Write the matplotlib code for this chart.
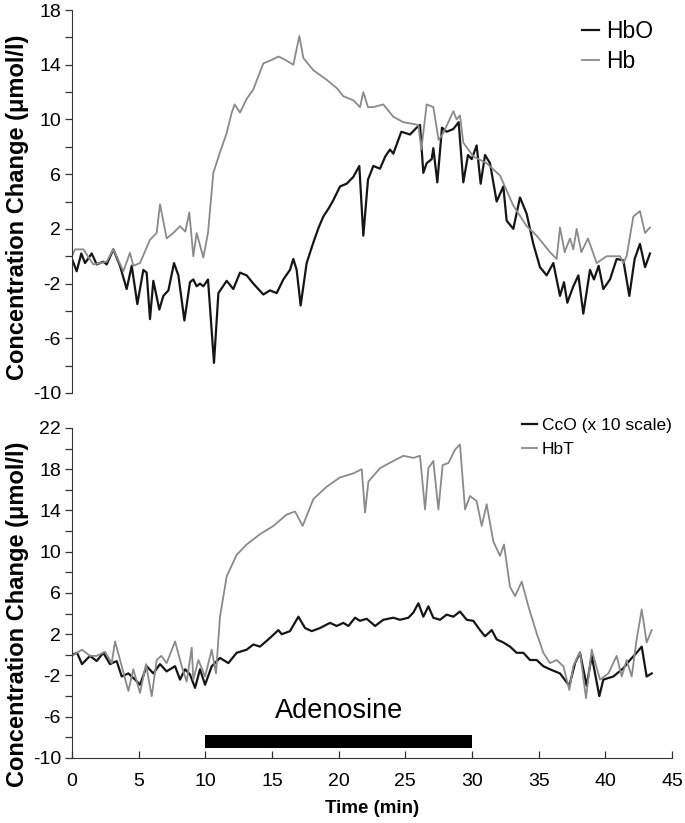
import matplotlib.pyplot as plt
import matplotlib.ticker as mticker

plt.rcParams['font.family'] = ['Liberation Sans', 'DejaVu Sans']
plt.rcParams['axes.unicode_minus'] = False

# top panel: HbO (black) and Hb (grey), time in minutes
hb_t = [0, 0.23, 0.85, 1.6, 2.6, 3.1, 3.85, 4.35, 4.6, 5.1, 5.85, 6.35, 6.6, 7.1, 7.6,
        8.1, 8.5, 8.8, 9.1, 9.35, 9.85, 10.2, 10.6, 11.1, 11.6, 11.98, 12.2, 12.6, 13.1,
        13.6, 14.35, 14.85, 15.5, 16.1, 16.6, 17.05, 17.35, 18.1, 19.1, 19.85, 20.35,
        21.1, 21.6, 21.85, 22.2, 22.6, 23.35, 24.1, 24.85, 25.98, 26.2, 26.6, 27.1, 27.5,
        27.85, 28.6, 28.85, 29.1, 29.35, 30.1, 31.1, 32.1, 33.1, 34.1, 34.85, 35.85,
        36.35, 36.6, 36.95, 37.35, 37.6, 37.85, 38.2, 38.7, 39.35, 40.1, 41.1, 41.35,
        41.6, 42.1, 42.6, 42.98, 43.35]
hb_v = [0, 0.5, 0.5, -0.6, -0.4, 0.5, -1.1, 0.25, -0.7, -0.5, 1.2, 1.7, 3.8, 1.3, 1.7,
        2.2, 1.8, 3.2, 0, 1.7, -0.1, 1.7, 6.1, 7.6, 9.0, 10.5, 11.1, 10.5, 11.5,
        12.2, 14.1, 14.3, 14.6, 14.3, 14.0, 16.1, 14.5, 13.6, 12.9, 12.3, 11.7,
        11.4, 10.9, 12.0, 10.9, 10.9, 11.1, 10.2, 9.8, 9.6, 7.8, 11.1, 10.9, 8.5,
        9.0, 10.6, 10.0, 10.3, 8.3, 7.3, 6.8, 5.9, 3.7, 2.2, 1.5, 0.3,
        -0.2, 2.1, 0.3, 1.3, 0.5, 2.0, 0.3, 1.3, -0.5, 0, 0, -0.5,
        0, 2.9, 3.3, 1.7, 2.1]

hbo_t = [0, 0.35, 0.7, 0.98, 1.48, 1.85, 2.35, 2.6, 3.1, 3.6, 4.1, 4.48, 4.9, 5.35, 5.6,
         5.85, 6.1, 6.55, 6.85, 7.23, 7.65, 7.98, 8.43, 8.85, 9.1, 9.35, 9.6, 9.85, 10.2,
         10.65, 10.98, 11.6, 12.1, 12.6, 13.1, 13.6, 14.35, 14.85, 15.35, 15.85, 16.35,
         16.6, 16.85, 17.15, 17.6, 18.1, 18.5, 18.85, 19.25, 19.6, 20.1, 20.6, 21.1,
         21.55, 21.85, 22.2, 22.6, 23.1, 23.5, 23.85, 24.1, 24.7, 25.35, 25.85, 26.1,
         26.35, 26.6, 26.98, 27.1, 27.4, 27.75, 28.1, 28.6, 29.0, 29.35, 29.7, 29.98,
         30.35, 30.65, 30.98, 31.35, 31.85, 32.35, 32.6, 33.1, 33.6, 34.1, 34.6, 35.1,
         35.6, 36.1, 36.6, 36.9, 37.15, 37.6, 37.98, 38.35, 38.85, 39.15, 39.5, 39.85,
         40.35, 40.85, 41.35, 41.8, 42.2, 42.6, 42.98, 43.35]
hbo_v = [-0.2, -1.1, 0.2, -0.5, 0.2, -0.6, -0.4, -0.6, 0.5, -0.7, -2.4, -0.7, -3.5, -1.0, -1.2,
         -4.6, -1.8, -3.9, -2.9, -2.5, -0.5, -1.4, -4.7, -1.9, -1.7, -2.2, -2.0, -2.2, -1.7,
         -7.8, -2.7, -1.8, -2.4, -1.2, -1.4, -2.0, -2.8, -2.5, -2.7, -1.7, -1.0,
         -0.2, -1.0, -3.6, -0.5, 1.0, 2.1, 2.9, 3.5, 4.1, 5.1, 5.3, 5.8,
         6.6, 1.5, 5.6, 6.6, 6.4, 7.3, 7.8, 7.5, 9.1, 8.9, 9.4, 9.6,
         6.1, 6.8, 7.1, 7.9, 5.4, 9.4, 9.1, 9.3, 9.8, 5.4, 7.4, 7.1,
         8.1, 5.3, 7.4, 6.8, 4.0, 5.1, 2.6, 2.0, 4.3, 3.1, 0.9, -0.8,
         -1.4, -0.5, -2.9, -1.9, -3.4, -2.2, -1.4, -4.2, -1.0, -1.7, -0.7, -2.4,
         -1.7, -0.2, -0.3, -2.9, -0.2, 0.9, -0.8, 0.2]

# bottom panel: CcO (x10 scale, black) and HbT (grey)
hbt_t = [0, 0.75, 1.35, 1.85, 2.48, 2.98, 3.23, 3.73, 4.23, 4.6, 5.1, 5.55, 5.98, 6.35, 6.7,
         7.1, 7.73, 8.23, 8.6, 8.98, 9.1, 9.48, 9.98, 10.48, 10.8, 11.1, 11.6, 12.35, 13.1,
         14.1, 15.1, 16.1, 16.73, 17.3, 18.1, 19.1, 20.1, 21.1, 21.73, 21.98, 22.23, 23.1,
         24.1, 24.85, 25.6, 26.1, 26.48, 26.73, 27.1, 27.48, 27.8, 28.23, 28.73, 29.1,
         29.48, 29.85, 30.35, 30.73, 31.1, 31.6, 32.1, 32.4, 32.85, 33.23, 33.73, 34.23,
         34.85, 35.35, 35.85, 36.35, 36.85, 37.3, 37.6, 38.1, 38.55, 38.98, 39.6, 40.23,
         40.85, 41.23, 41.6, 41.98, 42.35, 42.73, 43.1, 43.48]
hbt_v = [-0.1, 0.5, -0.1, -0.1, 0.3, -0.8, 1.3, -1.1, -3.5, -1.4, -3.7, -0.9, -4.0, -0.5, -0.1,
         -0.8, 1.3, -1.1, -2.6, 0.7, -2.4, -0.5, -2.1, 0.5, -1.8, 3.7, 7.6, 9.7, 10.7,
         11.7, 12.5, 13.6, 13.9, 12.5, 15.1, 16.3, 17.2, 17.6, 18.0, 13.8, 16.8, 18.1,
         18.8, 19.3, 19.1, 19.3, 14.1, 18.1, 18.8, 14.1, 18.4, 18.6, 19.9, 20.4,
         14.1, 15.4, 14.9, 12.5, 14.6, 11.0, 9.6, 10.7, 6.6, 5.7, 7.1, 4.7,
         2.1, 0.2, -0.8, -0.5, -1.1, -3.4, -1.1, 0.3, -4.2, 0.5, -2.4, -1.8,
         -0.1, -2.1, -0.5, -2.1, 1.5, 4.4, 1.2, 2.4]

cco_t = [0, 0.38, 0.75, 1.35, 1.85, 2.35, 2.85, 3.35, 3.73, 4.23, 4.73, 5.1, 5.6, 6.1, 6.6,
         7.1, 7.73, 8.1, 8.48, 8.85, 9.23, 9.6, 9.98, 10.48, 11.1, 11.73, 12.35, 13.1, 13.6,
         14.1, 14.73, 15.48, 15.73, 16.35, 16.98, 17.48, 17.98, 18.6, 19.35, 19.85, 20.35,
         20.73, 21.23, 21.6, 22.1, 22.73, 23.35, 24.1, 24.6, 25.23, 25.6, 25.98, 26.35,
         26.73, 27.1, 27.6, 28.1, 28.6, 29.1, 29.6, 30.1, 30.6, 30.98, 31.48, 31.85,
         32.35, 32.85, 33.35, 33.85, 34.35, 34.85, 35.35, 35.85, 36.6, 37.3, 37.73, 38.1,
         38.6, 38.98, 39.55, 39.85, 40.6, 41.35, 41.85, 42.35, 42.73, 43.1, 43.48]
cco_v = [0, 0.2, -0.9, -0.1, -0.6, 0.2, -0.9, -0.6, -2.1, -1.8, -2.4, -2.9, -1.1, -1.8, -0.9,
         -1.6, -1.1, -2.4, -1.4, -1.9, -3.2, -1.4, -2.9, -1.1, -0.3, -0.8, 0.2, 0.5, 1.0,
         0.8, 1.5, 2.4, 2.0, 2.3, 3.7, 2.6, 2.3, 2.6, 3.1, 2.8, 3.1,
         2.8, 3.6, 3.3, 3.5, 2.8, 3.4, 3.6, 3.4, 3.6, 4.1, 5.0, 3.7,
         4.7, 3.6, 3.4, 3.9, 3.7, 4.2, 3.4, 3.3, 2.4, 1.8, 2.4, 1.5,
         1.2, 0.8, 0.2, 0.2, -0.5, -0.5, -1.1, -1.4, -1.8, -3.0, -0.8, 0.2,
         -3.0, -0.1, -4.0, -2.4, -2.1, -1.3, -0.5, 0.2, 0.8, -2.1, -1.8]

drug_label = "Adenosine"
drug_start, drug_end = 10, 30

BLACK = '#151515'
GREY = '#8a8a8a'
ylab = 'Concentration Change (\u03bcmol/l)'

fig = plt.figure(figsize=(6.85, 8.23), dpi=100)
ax1 = fig.add_axes([0.1051, 0.5225, 0.8759, 0.4653])
ax2 = fig.add_axes([0.1051, 0.0790, 0.8759, 0.4010])


def style_y(ax, lo, hi, label_y):
    ax.set_xlim(0, 45)
    ax.set_ylim(lo, hi)
    ax.yaxis.set_major_locator(mticker.FixedLocator(list(range(lo, hi + 1, 4))))
    ax.yaxis.set_minor_locator(mticker.MultipleLocator(2))
    ax.tick_params(axis='y', which='both', direction='out', length=5, width=0.9,
                   labelsize=14, pad=3, colors='#333333', labelcolor='black')
    for s in ['top', 'right']:
        ax.spines[s].set_visible(False)
    ax.spines['left'].set_color('#333333')
    ax.set_ylabel(ylab, fontsize=17, fontweight='bold')
    ax.yaxis.set_label_coords(-0.071, label_y)


# top panel
ax1.plot(hbo_t, hbo_v, color=BLACK, lw=1.6, label='HbO')
ax1.plot(hb_t, hb_v, color=GREY, lw=1.3, label='Hb')
style_y(ax1, -10, 18, 0.486)
ax1.spines['bottom'].set_visible(False)
ax1.set_xticks([])
ax1.legend(loc='upper left', bbox_to_anchor=(582 / 685, 1 - 20 / 823),
           bbox_transform=fig.transFigure, frameon=False, fontsize=16.5,
           handlelength=0.75, handletextpad=0.3, labelspacing=0.3, borderpad=0,
           borderaxespad=0)

# bottom panel
ax2.plot(cco_t, cco_v, color=BLACK, lw=1.6, label='CcO (x 10 scale)')
ax2.plot(hbt_t, hbt_v, color=GREY, lw=1.3, label='HbT')
style_y(ax2, -10, 22, 0.436)
ax2.spines['bottom'].set_color('#333333')
ax2.set_xticks(range(0, 46, 5))
ax2.tick_params(axis='x', direction='in', length=5, width=0.9, labelsize=14, pad=11,
                colors='#333333', labelcolor='black')
ax2.set_xlabel('Time (min)', fontsize=13.5, fontweight='bold', labelpad=7)
ax2.legend(loc='upper left', bbox_to_anchor=(522 / 685, 1 - 418 / 823),
           bbox_transform=fig.transFigure, frameon=False, fontsize=12.5,
           handlelength=0.85, handletextpad=0.3, labelspacing=0.5, borderpad=0,
           borderaxespad=0)

ax2.barh(-8.4, drug_end - drug_start, left=drug_start, height=1.3, color='black')
ax2.text((drug_start + drug_end) / 2, -6.1, drug_label, ha='center', va='baseline',
         fontsize=19.5)

fig.savefig('out.png', dpi=100)
